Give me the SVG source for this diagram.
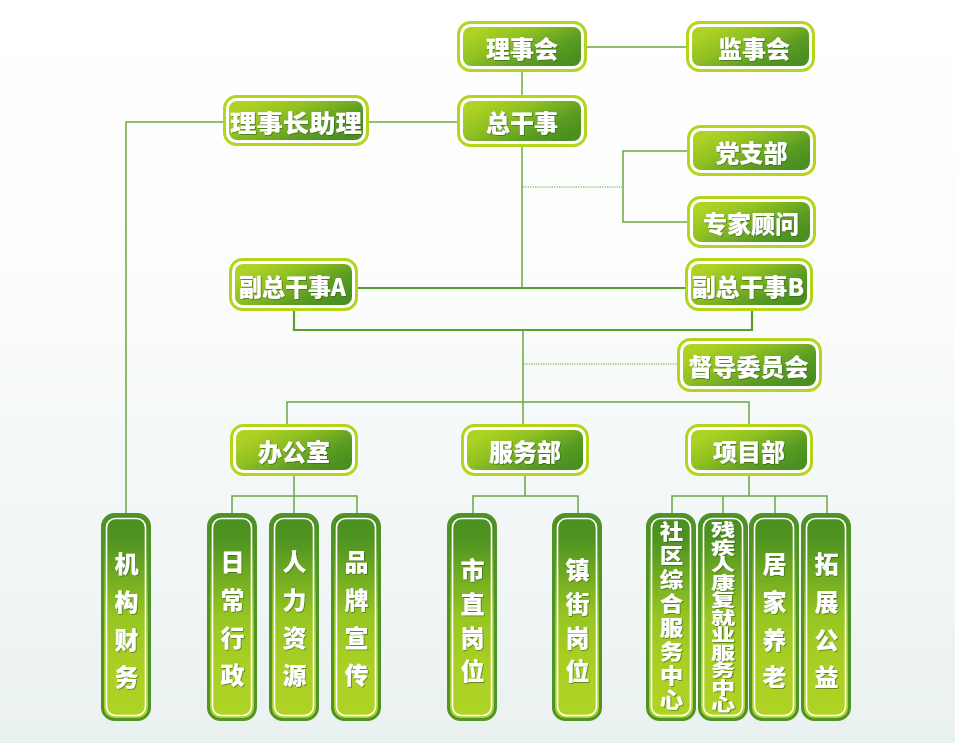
<svg xmlns="http://www.w3.org/2000/svg" width="955" height="743" viewBox="0 0 955 743">
<defs>
<linearGradient id="bg" x1="0" y1="0" x2="0" y2="1">
<stop offset="0" stop-color="#ffffff"/>
<stop offset="0.4" stop-color="#fbfcfc"/>
<stop offset="1" stop-color="#eaf1f1"/>
</linearGradient>
<linearGradient id="hg" x1="0.05" y1="0.2" x2="0.95" y2="0.8">
<stop offset="0" stop-color="#afd324"/>
<stop offset="0.35" stop-color="#8fc022"/>
<stop offset="0.75" stop-color="#5a9c22"/>
<stop offset="1" stop-color="#4a9020"/>
</linearGradient>
<linearGradient id="vg" x1="0" y1="0" x2="0" y2="1">
<stop offset="0" stop-color="#4a9020"/>
<stop offset="0.12" stop-color="#4f9421"/>
<stop offset="0.5" stop-color="#97c622"/>
<stop offset="0.75" stop-color="#abd024"/>
<stop offset="1" stop-color="#b0d424"/>
</linearGradient>
<filter id="ts" x="-10%" y="-10%" width="120%" height="120%">
<feDropShadow dx="0.8" dy="0.8" stdDeviation="0.3" flood-color="#2f5a10" flood-opacity="0.7"/>
</filter>
</defs>
<style>
.ho{fill:#ffffff;stroke:#b4d51b;stroke-width:3}
.hi{fill:url(#hg)}
.vo{fill:url(#vg);stroke:#4f9424;stroke-width:3}
.vi{fill:none;stroke:#ffffff;stroke-width:1.6}
.t{font-family:"Noto Sans CJK SC","Noto Sans",sans-serif;font-weight:900;fill:#ffffff;filter:url(#ts)}
.ht{font-size:24px;text-anchor:middle;dominant-baseline:central}
.vt{font-size:24px;text-anchor:middle;dominant-baseline:central}
.vw{writing-mode:vertical-rl;text-anchor:middle}
.ln{fill:none;stroke:#6aa842;stroke-width:1.5}
.lb{fill:none;stroke:#5c9e2e;stroke-width:2.2}
.dt{fill:none;stroke:#93c272;stroke-width:1.5;stroke-dasharray:1.2 1.2}
</style>
<rect x="0" y="0" width="955" height="743" fill="url(#bg)"/>

<g id="connectors">
<path class="ln" d="M587,47 H686"/>
<path class="ln" d="M522,72 V95"/>
<path class="ln" d="M369,122 H457"/>
<path class="ln" d="M223,122 H126 V513"/>
<path class="ln" d="M522,147 V288"/>
<path class="dt" d="M523,187 H623"/>
<path class="ln" d="M687,151 H623 V222 H687"/>
<path class="lb" d="M358,288 H685"/>
<path class="lb" d="M294,311 V330 H752 V311"/>
<path class="ln" d="M523,330 V424"/>
<path class="dt" d="M524,364 H677"/>
<path class="ln" d="M287,424 V402 H749 V424"/>
<path class="ln" d="M294,476 V496 M232,514 V496 H357 V514 M294,496 V514"/>
<path class="ln" d="M525,476 V496 M473,514 V496 H578 V514"/>
<path class="ln" d="M749,476 V496 M672,514 V496 H827 V514 M723,496 V514 M775,496 V514"/>
</g>

<g id="n-lishihui">
<rect class="ho" x="458.5" y="22.5" width="127" height="48" rx="12"/>
<rect class="hi" x="463" y="27" width="118" height="39" rx="8"/>
<text class="t ht" x="522" y="47">理事会</text>
</g>
<g id="n-jianshihui">
<rect class="ho" x="687.5" y="22.5" width="126" height="48" rx="12"/>
<rect class="hi" x="692" y="27" width="117" height="39" rx="8"/>
<text class="t ht" x="754" y="47">监事会</text>
</g>
<g id="n-zongganshi">
<rect class="ho" x="458.5" y="96.5" width="127" height="49" rx="12"/>
<rect class="hi" x="463" y="101" width="118" height="40" rx="8"/>
<text class="t ht" x="522" y="121.5">总干事</text>
</g>
<g id="n-zhuli">
<rect class="ho" x="224.5" y="96.5" width="143" height="48" rx="12"/>
<rect class="hi" x="229" y="101" width="134" height="39" rx="8"/>
<text class="t ht" x="296" y="121" textLength="132" lengthAdjust="spacingAndGlyphs">理事长助理</text>
</g>
<g id="n-dangzhibu">
<rect class="ho" x="688.5" y="126.5" width="126" height="48" rx="12"/>
<rect class="hi" x="693" y="131" width="117" height="39" rx="8"/>
<text class="t ht" x="751.5" y="151">党支部</text>
</g>
<g id="n-zhuanjia">
<rect class="ho" x="688.5" y="197.5" width="126" height="49" rx="12"/>
<rect class="hi" x="693" y="202" width="117" height="40" rx="8"/>
<text class="t ht" x="751" y="222.5">专家顾问</text>
</g>
<g id="n-fuA">
<rect class="ho" x="230.5" y="259.5" width="126" height="50" rx="12"/>
<rect class="hi" x="235" y="264" width="117" height="41" rx="8"/>
<text class="t ht" x="292.5" y="285" textLength="107" lengthAdjust="spacingAndGlyphs">副总干事A</text>
</g>
<g id="n-fuB">
<rect class="ho" x="686.5" y="259.5" width="125" height="50" rx="12"/>
<rect class="hi" x="691" y="264" width="116" height="41" rx="8"/>
<text class="t ht" x="748" y="285" textLength="112" lengthAdjust="spacingAndGlyphs">副总干事B</text>
</g>
<g id="n-dudao">
<rect class="ho" x="678.5" y="339.5" width="142" height="51" rx="12"/>
<rect class="hi" x="683" y="344" width="133" height="42" rx="8"/>
<text class="t ht" x="748.5" y="365">督导委员会</text>
</g>
<g id="n-bangongshi">
<rect class="ho" x="231.5" y="425.5" width="125" height="49" rx="12"/>
<rect class="hi" x="236" y="430" width="116" height="40" rx="8"/>
<text class="t ht" x="294" y="450.5">办公室</text>
</g>
<g id="n-fuwubu">
<rect class="ho" x="462.5" y="425.5" width="125" height="49" rx="12"/>
<rect class="hi" x="467" y="430" width="116" height="40" rx="8"/>
<text class="t ht" x="525" y="450.5">服务部</text>
</g>
<g id="n-xiangmubu">
<rect class="ho" x="686.5" y="425.5" width="125" height="49" rx="12"/>
<rect class="hi" x="691" y="430" width="116" height="40" rx="8"/>
<text class="t ht" x="749" y="450.5">项目部</text>
</g>

<g id="n-jigoucaiwu">
<rect class="vo" x="102.5" y="514.5" width="47" height="205" rx="12"/>
<rect class="vi" x="106.5" y="518.5" width="39" height="197" rx="9"/>
<text class="t vt"><tspan x="126.5" y="562">机</tspan><tspan x="126.5" y="600">构</tspan><tspan x="126.5" y="638">财</tspan><tspan x="126.5" y="675">务</tspan></text>
</g>
<g id="n-richangxingzheng">
<rect class="vo" x="208.5" y="514.5" width="47" height="205" rx="12"/>
<rect class="vi" x="212.5" y="518.5" width="39" height="197" rx="9"/>
<text class="t vt"><tspan x="232.5" y="560">日</tspan><tspan x="232.5" y="598">常</tspan><tspan x="232.5" y="636">行</tspan><tspan x="232.5" y="673">政</tspan></text>
</g>
<g id="n-renliziyuan">
<rect class="vo" x="270.5" y="514.5" width="47" height="205" rx="12"/>
<rect class="vi" x="274.5" y="518.5" width="39" height="197" rx="9"/>
<text class="t vt"><tspan x="294.5" y="560">人</tspan><tspan x="294.5" y="598">力</tspan><tspan x="294.5" y="636">资</tspan><tspan x="294.5" y="673">源</tspan></text>
</g>
<g id="n-pinpaixuanchuan">
<rect class="vo" x="332.5" y="514.5" width="47" height="205" rx="12"/>
<rect class="vi" x="336.5" y="518.5" width="39" height="197" rx="9"/>
<text class="t vt"><tspan x="356.5" y="560">品</tspan><tspan x="356.5" y="598">牌</tspan><tspan x="356.5" y="636">宣</tspan><tspan x="356.5" y="673">传</tspan></text>
</g>
<g id="n-shizhigangwei">
<rect class="vo" x="448.5" y="514.5" width="47" height="205" rx="12"/>
<rect class="vi" x="452.5" y="518.5" width="39" height="197" rx="9"/>
<text class="t vt"><tspan x="472.5" y="568">市</tspan><tspan x="472.5" y="602">直</tspan><tspan x="472.5" y="636">岗</tspan><tspan x="472.5" y="669">位</tspan></text>
</g>
<g id="n-zhenjiegangwei">
<rect class="vo" x="553.5" y="514.5" width="47" height="205" rx="12"/>
<rect class="vi" x="557.5" y="518.5" width="39" height="197" rx="9"/>
<text class="t vt"><tspan x="577.5" y="568">镇</tspan><tspan x="577.5" y="602">街</tspan><tspan x="577.5" y="636">岗</tspan><tspan x="577.5" y="669">位</tspan></text>
</g>
<g id="n-shequ">
<rect class="vo" x="647.5" y="514.5" width="47" height="205" rx="12"/>
<rect class="vi" x="651.5" y="518.5" width="39" height="197" rx="9"/>
<g transform="translate(671.5 0) scale(1.12 1)">
<text class="t vw" x="0" y="616.5" style="font-size:21px;letter-spacing:3px">社区综合服务中心</text>
</g>
</g>
<g id="n-canji">
<rect class="vo" x="699.5" y="514.5" width="47" height="205" rx="12"/>
<rect class="vi" x="703.5" y="518.5" width="39" height="197" rx="9"/>
<g transform="translate(723 0) scale(1.42 1)">
<text class="t vw" x="0" y="617.5" style="font-size:17px;letter-spacing:0.5px">残疾人康复就业服务中心</text>
</g>
</g>
<g id="n-jujiayanglao">
<rect class="vo" x="750.5" y="514.5" width="47" height="205" rx="12"/>
<rect class="vi" x="754.5" y="518.5" width="39" height="197" rx="9"/>
<text class="t vt"><tspan x="774.5" y="562">居</tspan><tspan x="774.5" y="600">家</tspan><tspan x="774.5" y="638">养</tspan><tspan x="774.5" y="675">老</tspan></text>
</g>
<g id="n-tuozhangongyi">
<rect class="vo" x="802.5" y="514.5" width="47" height="205" rx="12"/>
<rect class="vi" x="806.5" y="518.5" width="39" height="197" rx="9"/>
<text class="t vt"><tspan x="826.5" y="562">拓</tspan><tspan x="826.5" y="600">展</tspan><tspan x="826.5" y="638">公</tspan><tspan x="826.5" y="675">益</tspan></text>
</g>
</svg>
